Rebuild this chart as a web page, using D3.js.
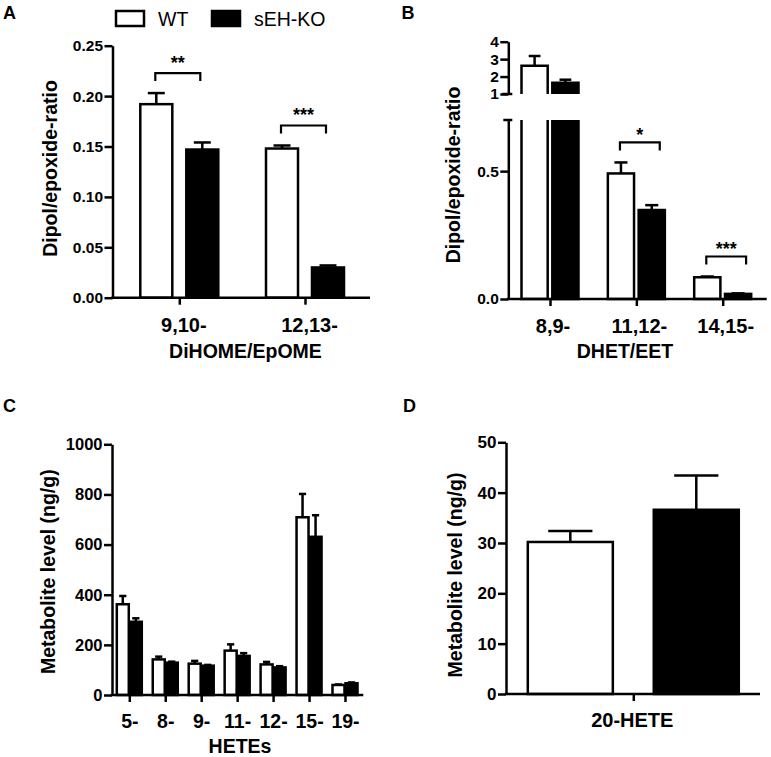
<!DOCTYPE html>
<html>
<head>
<meta charset="utf-8">
<script src="https://cdn.jsdelivr.net/npm/d3@7"></script>
<style>
  html, body { margin: 0; padding: 0; background: #fff; }
  svg { display: block; }
  text { font-family: "Liberation Sans", Arial, Helvetica, sans-serif; fill: #000; }
</style>
</head>
<body>
<svg id="chart" width="771" height="757"></svg>
<script>
// ---------------- DATA ----------------
const groups = ["WT", "sEH-KO"];

// Panel A
const catsA = ["9,10-", "12,13-"];
const wtA = [0.192, 0.148];
const wtErrA = [0.011, 0.003];
const koA = [0.147, 0.030];
const koErrA = [0.007, 0.002];
const sigA = ["**", "***"];
const ticksA = [0, 0.05, 0.10, 0.15, 0.20, 0.25];

// Panel B (broken axis)
const catsB = ["8,9-", "11,12-", "14,15-"];
const wtB = [2.62, 0.491, 0.085];
const wtErrB = [0.56, 0.043, 0.003];
const koB = [1.65, 0.348, 0.020];
const koErrB = [0.17, 0.019, 0.002];
const sigB = [null, "*", "***"];
const ticksBLow = [0, 0.5];
const ticksBHigh = [1, 2, 3, 4];

// Panel C
const catsC = ["5-", "8-", "9-", "11-", "12-", "15-", "19-"];
const wtC = [362, 142, 125, 177, 122, 709, 40];
const wtErrC = [33, 11, 11, 25, 10, 93, 2];
const koC = [292, 129, 117, 156, 110, 631, 47];
const koErrC = [14, 4, 3, 11, 5, 86, 3];
const ticksC = [0, 200, 400, 600, 800, 1000];

// Panel D
const catsD = ["20-HETE"];
const wtD = [30.2];
const wtErrD = [2.2];
const koD = [36.6];
const koErrD = [6.8];
const ticksD = [0, 10, 20, 30, 40, 50];

// ---------------- DRAWING ----------------
const svg = d3.select("#chart");
const SW = 2.5;
const FONT = '"Liberation Sans", Arial, Helvetica, sans-serif';
const fills = { "WT": "#fff", "sEH-KO": "#000" };

function styleAxis(g, fs) {
  g.select(".domain").attr("stroke", "#000").attr("stroke-width", SW);
  g.selectAll(".tick line").attr("stroke", "#000").attr("stroke-width", SW);
  g.selectAll(".tick text").attr("font-size", fs).attr("font-weight", "bold")
    .attr("font-family", FONT).attr("fill", "#000");
}

function leftAxis(scale, x, ticks, fmt, fs) {
  const g = svg.append("g").attr("transform", `translate(${x},0)`)
    .call(d3.axisLeft(scale).tickValues(ticks).tickFormat(fmt).tickSize(8).tickSizeOuter(0).tickPadding(1.5));
  styleAxis(g, fs);
  return g;
}

function bottomAxis(xScale, x0, x1, y0, fs, dx, labelOffset) {
  svg.append("line").attr("x1", x0 - SW / 2).attr("x2", x1).attr("y1", y0).attr("y2", y0)
    .attr("stroke", "#000").attr("stroke-width", SW);
  const g = svg.append("g").attr("transform", `translate(0,${y0})`)
    .call(d3.axisBottom(xScale).tickSize(7).tickSizeOuter(0));
  g.select(".domain").remove();
  styleAxis(g, fs);
  g.selectAll(".tick text").attr("y", labelOffset).attr("dy", null).attr("dx", dx);
}

function errBar(cx, yTop, yErr, bw, capRatio) {
  svg.append("line").attr("x1", cx).attr("x2", cx).attr("y1", yTop).attr("y2", yErr)
    .attr("stroke", "#000").attr("stroke-width", SW);
  const cw = bw * capRatio;
  svg.append("line").attr("x1", cx - cw / 2).attr("x2", cx + cw / 2).attr("y1", yErr).attr("y2", yErr)
    .attr("stroke", "#000").attr("stroke-width", SW);
}

function simpleBars(cats, series, x, inner, y, capRatio) {
  cats.forEach((c, i) => {
    series.forEach(s => {
      const bw = inner.bandwidth();
      const left = x(c) + inner(s.name);
      const yTop = y(s.vals[i]);
      errBar(left + bw / 2, yTop, y(s.vals[i] + s.errs[i]), bw, capRatio);
      svg.append("rect").attr("x", left).attr("y", yTop).attr("width", bw)
        .attr("height", y(0) - yTop).attr("fill", fills[s.name])
        .attr("stroke", "#000").attr("stroke-width", SW);
    });
  });
}

function bracket(xa, xb, yLeg, label, fs, starGap) {
  const yTop = yLeg - 8;
  svg.append("path").attr("d", `M${xa},${yLeg}V${yTop}H${xb}V${yLeg}`)
    .attr("fill", "none").attr("stroke", "#000").attr("stroke-width", 2.2);
  svg.append("text").attr("x", (xa + xb) / 2).attr("y", yTop - starGap + 9)
    .attr("text-anchor", "middle").attr("font-size", fs).attr("font-weight", "bold").text(label);
}

function yTitle(text, x, y) {
  svg.append("text").attr("transform", `translate(${x},${y}) rotate(-90)`)
    .attr("text-anchor", "middle").attr("font-size", 19.5).attr("font-weight", "bold").text(text);
}
function xTitle(text, x, y) {
  svg.append("text").attr("x", x).attr("y", y).attr("text-anchor", "middle")
    .attr("font-size", 19.5).attr("font-weight", "bold").text(text);
}
function panelLabel(t, x, y) {
  svg.append("text").attr("x", x).attr("y", y).attr("font-size", 18).attr("font-weight", "bold").text(t);
}

// ---------- Panel A ----------
{
  const y = d3.scaleLinear().domain([0, 0.25]).range([297.7, 45.7]);
  const x = d3.scalePoint().domain(catsA).range([179.3, 305]);
  const inner = d3.scaleBand().domain(groups).range([-39, 39]).paddingInner(0.304);
  const ax = 112.5;
  const series = [{ name: "WT", vals: wtA, errs: wtErrA }, { name: "sEH-KO", vals: koA, errs: koErrA }];
  simpleBars(catsA, series, x, inner, y, 0.53);
  leftAxis(y, ax, ticksA, d3.format(".2f"), 15.5);
  bottomAxis(x, ax, 370, y(0), 20, 4, 34);
  catsA.forEach((c, i) => {
    if (!sigA[i]) return;
    const top = Math.min(y(wtA[i] + wtErrA[i]), y(koA[i] + koErrA[i]));
    const bw = inner.bandwidth();
    const xa = x(c) + inner("WT") + bw / 2 - 1;
    const xb = x(c) + inner("sEH-KO") + bw / 2 - 2;
    bracket(xa, xb, top - 12, sigA[i], 18, 13);
  });
  yTitle("Dipol/epoxide-ratio", 56.5, 168.5);
  xTitle("DiHOME/EpOME", 245.5, 358);
  panelLabel("A", 3, 19);

  // legend
  const lg = svg.append("g");
  const lx = [116, 212];
  groups.forEach((gname, i) => {
    lg.append("rect").attr("x", lx[i]).attr("y", 11).attr("width", 28).attr("height", 15)
      .attr("fill", fills[gname]).attr("stroke", "#000").attr("stroke-width", SW);
    lg.append("text").attr("x", lx[i] + 42).attr("y", 25.8).attr("font-size", 19.5).text(gname);
  });
}

// ---------- Panel B ----------
{
  const yLo = d3.scaleLinear().domain([0, 0.7]).range([299, 120]);
  const yHi = d3.scaleLinear().domain([1, 4]).range([94, 41.7]);
  const x = d3.scalePoint().domain(catsB).range([550, 722.7]);
  const inner = d3.scaleBand().domain(groups).range([-28.5, 28.5]).paddingInner(0.15);
  const ax = 508.3;
  const series = [{ name: "WT", vals: wtB, errs: wtErrB }, { name: "sEH-KO", vals: koB, errs: koErrB }];
  const bw = inner.bandwidth();
  catsB.forEach((c, i) => {
    series.forEach(s => {
      const left = x(c) + inner(s.name);
      const v = s.vals[i];
      if (v > yLo.domain()[1]) {
        // broken bar: lower part open at top, upper part open at bottom
        const yT = yHi(v);
        errBar(left + bw / 2, yT, yHi(v + s.errs[i]), bw, 0.45);
        svg.append("path").attr("d", `M${left},${yHi(1)}V${yT}H${left + bw}V${yHi(1)}`)
          .attr("fill", fills[s.name]).attr("stroke", "#000").attr("stroke-width", SW);
        svg.append("path").attr("d", `M${left},${yLo(0.7)}V${yLo(0)}H${left + bw}V${yLo(0.7)}`)
          .attr("fill", fills[s.name]).attr("stroke", "#000").attr("stroke-width", SW);
      } else {
        const yT = yLo(v);
        errBar(left + bw / 2, yT, yLo(v + s.errs[i]), bw, 0.5);
        svg.append("rect").attr("x", left).attr("y", yT).attr("width", bw)
          .attr("height", yLo(0) - yT).attr("fill", fills[s.name])
          .attr("stroke", "#000").attr("stroke-width", SW);
      }
    });
  });
  leftAxis(yLo, ax, ticksBLow, d3.format(".1f"), 15.5);
  leftAxis(yHi, ax, ticksBHigh, d3.format("d"), 15.5);
  // break caps
  svg.append("line").attr("x1", ax - 6).attr("x2", ax + 4).attr("y1", yHi(1)).attr("y2", yHi(1))
    .attr("stroke", "#000").attr("stroke-width", SW);
  svg.append("line").attr("x1", ax - 5).attr("x2", ax + 4).attr("y1", yLo(0.7)).attr("y2", yLo(0.7))
    .attr("stroke", "#000").attr("stroke-width", SW);
  bottomAxis(x, ax, 766.7, yLo(0), 20, 2.5, 34);
  catsB.forEach((c, i) => {
    if (!sigB[i]) return;
    const top = Math.min(yLo(wtB[i] + wtErrB[i]), yLo(koB[i] + koErrB[i]));
    const xa = x(c) + inner("WT") + bw / 2 - 1;
    const xb = x(c) + inner("sEH-KO") + bw / 2 + 8;
    bracket(xa, xb, top - 12, sigB[i], 18, 10.5);
  });
  yTitle("Dipol/epoxide-ratio", 460, 175);
  xTitle("DHET/EET", 625, 358.3);
  panelLabel("B", 401.5, 18.5);
}

// ---------- Panel C ----------
{
  const y = d3.scaleLinear().domain([0, 1000]).range([695, 444.3]);
  const x = d3.scalePoint().domain(catsC).range([129.3, 345]);
  const inner = d3.scaleBand().domain(groups).range([-12.5, 12.5]).paddingInner(0.08);
  const ax = 112;
  const series = [{ name: "WT", vals: wtC, errs: wtErrC }, { name: "sEH-KO", vals: koC, errs: koErrC }];
  simpleBars(catsC, series, x, inner, y, 0.6);
  leftAxis(y, ax, ticksC, d3.format("d"), 16.5);
  bottomAxis(x, ax, 363.3, y(0), 19.5, 0, 33.3);
  yTitle("Metabolite level (ng/g)", 55, 571.7);
  xTitle("HETEs", 240, 753);
  panelLabel("C", 3, 411.5);
}

// ---------- Panel D ----------
{
  const y = d3.scaleLinear().domain([0, 50]).range([694, 442.3]);
  const x = d3.scalePoint().domain(catsD).range([633.3, 633.3]);
  const inner = d3.scaleBand().domain(groups).range([-105.5, 105.5]).paddingInner(0.325);
  const ax = 506;
  const series = [{ name: "WT", vals: wtD, errs: wtErrD }, { name: "sEH-KO", vals: koD, errs: koErrD }];
  simpleBars(catsD, series, x, inner, y, 0.52);
  leftAxis(y, ax, ticksD, d3.format("d"), 17);
  bottomAxis(x, ax, 760, y(0), 20, -1.5, 32.7);
  yTitle("Metabolite level (ng/g)", 461.5, 575);
  panelLabel("D", 403, 411.5);
}
</script>
</body>
</html>
